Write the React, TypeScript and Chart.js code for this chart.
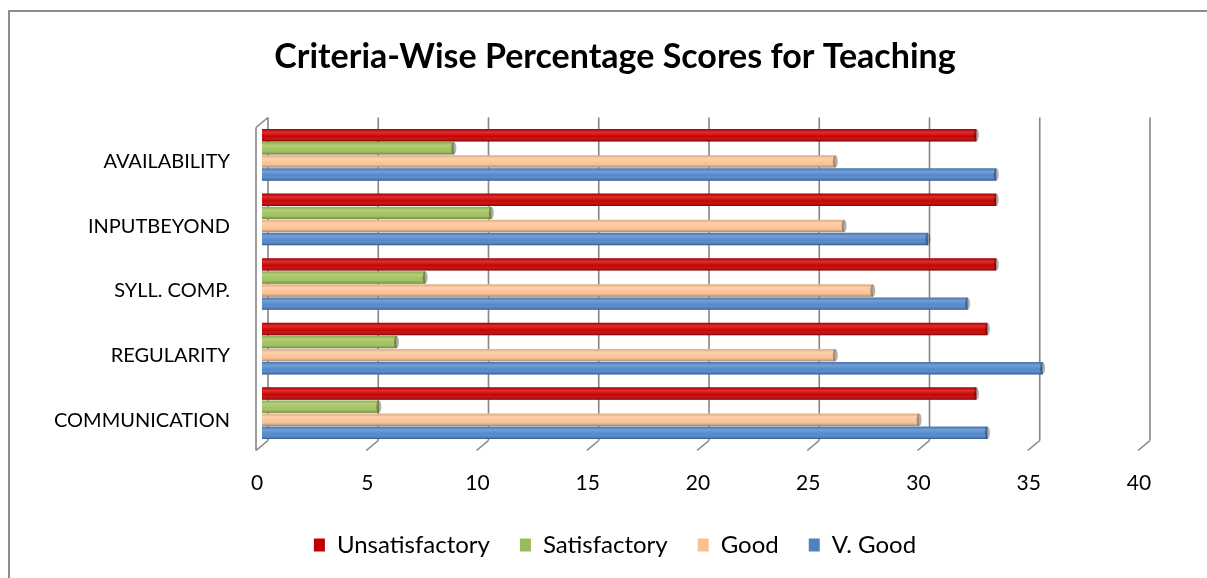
import React, { useEffect, useRef } from "react";
import { Chart, registerables } from "chart.js";

Chart.register(...registerables);

const categories = ["AVAILABILITY", "INPUTBEYOND", "SYLL. COMP.", "REGULARITY", "COMMUNICATION"];
const unsatisfactory = [32.4, 33.3, 33.3, 32.9, 32.4];
const satisfactory = [8.7, 10.4, 7.4, 6.1, 5.3];
const good = [26.0, 26.4, 27.7, 26.0, 29.8];
const vGood = [33.3, 30.2, 32.0, 35.4, 32.9];
const seriesNames = ["Unsatisfactory", "Satisfactory", "Good", "V. Good"];
const seriesColors = ["#CC0000", "#A2C35E", "#FCC597", "#5288CC"];
const legendColors = ["#C00000", "#9BBB59", "#FAC090", "#4F81BD"];
const xTickValues = [0, 5, 10, 15, 20, 25, 30, 35, 40];
const titleText = "Criteria-Wise Percentage Scores for Teaching";

const FONT = "Lato, 'Liberation Sans', sans-serif";
const DX = 6;
const DY = 5;

const wallsPlugin = {
  id: "walls3d",
  beforeDatasetsDraw(chart: any) {
    const ctx = chart.ctx;
    const xs = chart.scales.x;
    const { top, bottom, left } = chart.chartArea;
    ctx.save();
    ctx.strokeStyle = "#858585";
    ctx.lineWidth = 1.6;
    const line = (x1: number, y1: number, x2: number, y2: number) => {
      ctx.beginPath();
      ctx.moveTo(x1, y1);
      ctx.lineTo(x2, y2);
      ctx.stroke();
    };
    for (const v of xTickValues) {
      const px = xs.getPixelForValue(v);
      line(px + DX, top - DY, px + DX, bottom - DY);
      line(px - DX, bottom + DY, px + DX, bottom - DY);
    }
    line(left - DX, top + DY, left - DX, bottom + DY);
    line(left - DX, top + DY, left + DX, top - DY);
    ctx.restore();
  },
};

const cylinderPlugin = {
  id: "cylinder",
  afterDatasetsDraw(chart: any) {
    const ctx = chart.ctx;
    ctx.save();
    chart.data.datasets.forEach((_: any, di: number) => {
      const meta = chart.getDatasetMeta(di);
      meta.data.forEach((el: any) => {
        const p = el.getProps(["x", "y", "base", "height"], true);
        const t = p.y - p.height / 2;
        const h = p.height;
        const x0 = Math.min(p.base, p.x);
        const w = Math.abs(p.x - p.base);
        const g = ctx.createLinearGradient(0, t, 0, t + h);
        g.addColorStop(0, "rgba(0,0,0,0.1)");
        g.addColorStop(0.25, "rgba(255,255,255,0.2)");
        g.addColorStop(0.6, "rgba(255,255,255,0.0)");
        g.addColorStop(1, "rgba(0,0,0,0.35)");
        ctx.fillStyle = g;
        ctx.fillRect(x0, t, w, h);
        ctx.beginPath();
        ctx.ellipse(p.x, p.y, 2.5, h / 2, 0, 0, Math.PI * 2);
        ctx.fillStyle = "rgba(0,0,0,0.3)";
        ctx.fill();
      });
    });
    ctx.restore();
  },
};

export default function App() {
  const ref = useRef<HTMLCanvasElement>(null);
  useEffect(() => {
    if (!ref.current) return;
    const values = [unsatisfactory, satisfactory, good, vGood];
    const chart = new Chart(ref.current, {
      type: "bar",
      data: {
        labels: categories,
        datasets: seriesNames.map((name, i) => ({
          label: name,
          data: values[i],
          backgroundColor: seriesColors[i],
          borderWidth: 0,
          barPercentage: 0.95,
          categoryPercentage: 0.81,
          yAxisID: "y",
        })),
      },
      options: {
        indexAxis: "y",
        animation: false,
        responsive: false,
        maintainAspectRatio: false,
        devicePixelRatio: 1,
        layout: { padding: { left: 23, right: 0, top: 0, bottom: 11 } },
        scales: {
          x: {
            type: "linear",
            min: 0,
            max: 40,
            ticks: {
              stepSize: 5,
              padding: 25,
              labelOffset: -DX + 1,
              color: "#000",
              font: { family: FONT, size: 21 },
            },
            grid: { display: false, drawTicks: false },
            border: { display: false },
            afterFit: (s: any) => {
              s.height = 57.5;
              s.paddingLeft = 0;
              s.paddingRight = 0;
            },
          },
          y: {
            type: "category",
            position: "left",
            ticks: {
              padding: 32,
              labelOffset: 7,
              color: "#000",
              font: { family: FONT, size: 20 },
            },
            grid: { display: false, drawTicks: false },
            border: { display: false },
            afterFit: (s: any) => {
              s.width = 239;
              s.paddingTop = 0;
              s.paddingBottom = 0;
            },
          },
          yRight: {
            type: "category",
            position: "right",
            ticks: { display: false },
            grid: { display: false, drawTicks: false },
            border: { display: false },
            afterFit: (s: any) => {
              s.width = 63;
              s.paddingTop = 0;
              s.paddingBottom = 0;
            },
          },
        },
        plugins: {
          title: {
            display: true,
            text: titleText,
            color: "#000",
            font: { family: FONT, size: 34, weight: "bold" },
            padding: { top: 36.6, bottom: 45.1 },
          },
          legend: {
            position: "bottom",
            labels: {
              boxWidth: 11,
              boxHeight: 13,
              padding: 30,
              color: "#000",
              font: { family: FONT, size: 24 },
              generateLabels: (chart: any) =>
                Chart.defaults.plugins.legend.labels
                  .generateLabels(chart)
                  .map((item: any, i: number) => ({
                    ...item,
                    fillStyle: legendColors[i],
                    strokeStyle: legendColors[i],
                    lineWidth: 0,
                  })),
            },
          },
          tooltip: { enabled: false },
        },
      },
      plugins: [wallsPlugin, cylinderPlugin],
    } as any);
    return () => chart.destroy();
  }, []);

  return (
    <div
      style={{
        position: "fixed",
        left: 0,
        top: 0,
        width: 1207,
        height: 578,
        background: "#fff",
        overflow: "hidden",
      }}
    >
      <canvas
        ref={ref}
        width={1207}
        height={578}
        style={{ position: "absolute", left: 0, top: 0, width: 1207, height: 578 }}
      />
      <div
        style={{
          position: "absolute",
          left: 8,
          top: 10,
          width: 1400,
          height: 800,
          borderTop: "2px solid #8c8c8c",
          borderLeft: "2px solid #8c8c8c",
          pointerEvents: "none",
        }}
      />
    </div>
  );
}
